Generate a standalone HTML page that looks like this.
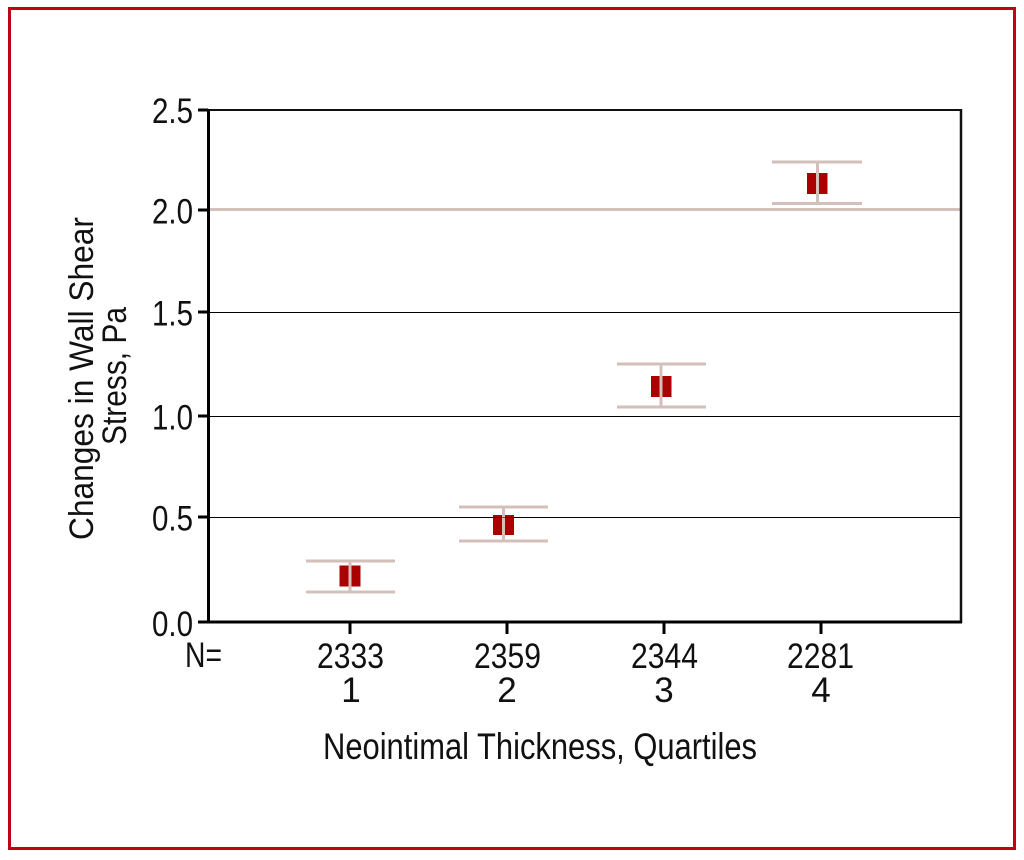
<!DOCTYPE html>
<html>
<head>
<meta charset="utf-8">
<style>
html,body{margin:0;padding:0;background:#fff;}
svg{display:block;}
text{font-family:"Liberation Sans Narrow","Liberation Sans",sans-serif;fill:#111;}
text.reg{font-family:"Liberation Sans",sans-serif;}
</style>
</head>
<body>
<svg width="1024" height="860" viewBox="0 0 1024 860" xmlns="http://www.w3.org/2000/svg">
  <rect x="0" y="0" width="1024" height="860" fill="#fff"/>
  <!-- red frame -->
  <rect x="9.5" y="8.5" width="1005" height="840" fill="none" stroke="#c20016" stroke-width="3"/>

  <!-- gridlines -->
  <line x1="208" y1="517.5" x2="961" y2="517.5" stroke="#000" stroke-width="1"/>
  <line x1="208" y1="416.5" x2="961" y2="416.5" stroke="#000" stroke-width="1"/>
  <line x1="208" y1="312.5" x2="961" y2="312.5" stroke="#000" stroke-width="1"/>
  <!-- reference line at 2.0 -->
  <line x1="208" y1="209.5" x2="961" y2="209.5" stroke="#d3c0bb" stroke-width="3"/>

  <!-- plot frame -->
  <line x1="208" y1="110" x2="962" y2="110" stroke="#111" stroke-width="2"/>
  <line x1="961" y1="109" x2="961" y2="623" stroke="#111" stroke-width="2.5"/>
  <line x1="208.5" y1="109" x2="208.5" y2="623.5" stroke="#000" stroke-width="3"/>
  <line x1="207" y1="622" x2="962" y2="622" stroke="#000" stroke-width="3"/>

  <!-- y ticks -->
  <g stroke="#000" stroke-width="3">
    <line x1="198" y1="622" x2="208" y2="622"/>
    <line x1="198" y1="517" x2="208" y2="517"/>
    <line x1="198" y1="416" x2="208" y2="416"/>
    <line x1="198" y1="312" x2="208" y2="312"/>
    <line x1="198" y1="210" x2="208" y2="210"/>
    <line x1="198" y1="110" x2="208" y2="110"/>
  </g>
  <!-- x ticks -->
  <g stroke="#000" stroke-width="3">
    <line x1="350" y1="622" x2="350" y2="634"/>
    <line x1="507" y1="622" x2="507" y2="634"/>
    <line x1="664" y1="622" x2="664" y2="634"/>
    <line x1="821" y1="622" x2="821" y2="634"/>
  </g>

  <!-- y tick labels -->
  <g font-size="35" text-anchor="end">
    <text x="193" y="636" textLength="41" lengthAdjust="spacingAndGlyphs">0.0</text>
    <text x="193" y="530.5" textLength="41" lengthAdjust="spacingAndGlyphs">0.5</text>
    <text x="193" y="429.5" textLength="41" lengthAdjust="spacingAndGlyphs">1.0</text>
    <text x="193" y="325.5" textLength="41" lengthAdjust="spacingAndGlyphs">1.5</text>
    <text x="193" y="223.5" textLength="41" lengthAdjust="spacingAndGlyphs">2.0</text>
    <text x="193" y="123" textLength="41" lengthAdjust="spacingAndGlyphs">2.5</text>
  </g>

  <!-- x labels -->
  <g font-size="35" text-anchor="middle">
    <text x="203.5" y="667" textLength="37" lengthAdjust="spacingAndGlyphs">N=</text>
    <text x="350.5" y="668" textLength="67" lengthAdjust="spacingAndGlyphs">2333</text>
    <text x="507.5" y="668" textLength="67" lengthAdjust="spacingAndGlyphs">2359</text>
    <text x="664.5" y="668" textLength="67" lengthAdjust="spacingAndGlyphs">2344</text>
    <text x="820.5" y="668" textLength="67" lengthAdjust="spacingAndGlyphs">2281</text>
    <text x="351" y="702">1</text>
    <text x="507" y="702">2</text>
    <text x="664" y="702">3</text>
    <text x="821" y="702">4</text>
  </g>
  <text class="reg" x="323" y="759" font-size="37" textLength="434" lengthAdjust="spacingAndGlyphs">Neointimal Thickness, Quartiles</text>

  <!-- y axis label -->
  <g font-size="34" text-anchor="middle">
    <text class="reg" transform="translate(93,378.5) rotate(-90)" textLength="323" lengthAdjust="spacingAndGlyphs">Changes in Wall Shear</text>
    <text class="reg" transform="translate(126,376) rotate(-90)" textLength="138" lengthAdjust="spacingAndGlyphs">Stress, Pa</text>
  </g>

  <!-- markers -->
  <g>
    <!-- Q1 -->
    <rect x="339.5" y="565.5" width="21" height="21" fill="#ab0000"/>
    <line x1="306" y1="561" x2="395" y2="561" stroke="#d3c0bb" stroke-width="3"/>
    <line x1="306" y1="592" x2="395" y2="592" stroke="#d3c0bb" stroke-width="3"/>
    <line x1="350" y1="561" x2="350" y2="592" stroke="#d3c0bb" stroke-width="3"/>
    <!-- Q2 -->
    <rect x="493" y="515" width="21" height="20" fill="#ab0000"/>
    <line x1="459" y1="507" x2="548" y2="507" stroke="#d3c0bb" stroke-width="3"/>
    <line x1="459" y1="541" x2="548" y2="541" stroke="#d3c0bb" stroke-width="3"/>
    <line x1="503.5" y1="507" x2="503.5" y2="541" stroke="#d3c0bb" stroke-width="3"/>
    <!-- Q3 -->
    <rect x="651" y="376" width="20.5" height="21" fill="#ab0000"/>
    <line x1="617" y1="364" x2="706" y2="364" stroke="#d3c0bb" stroke-width="3"/>
    <line x1="617" y1="407" x2="706" y2="407" stroke="#d3c0bb" stroke-width="3"/>
    <line x1="661" y1="364" x2="661" y2="407" stroke="#d3c0bb" stroke-width="3"/>
    <!-- Q4 -->
    <rect x="807" y="173" width="20.5" height="21" fill="#ab0000"/>
    <line x1="772" y1="162" x2="862" y2="162" stroke="#d3c0bb" stroke-width="3"/>
    <line x1="772" y1="203.5" x2="862" y2="203.5" stroke="#d3c0bb" stroke-width="3"/>
    <line x1="817.5" y1="162" x2="817.5" y2="203.5" stroke="#d3c0bb" stroke-width="3"/>
  </g>
  <!-- gridline over Q2 marker -->
  <line x1="490" y1="517.5" x2="517" y2="517.5" stroke="#111" stroke-width="1" opacity="0.6"/>
</svg>
</body>
</html>
